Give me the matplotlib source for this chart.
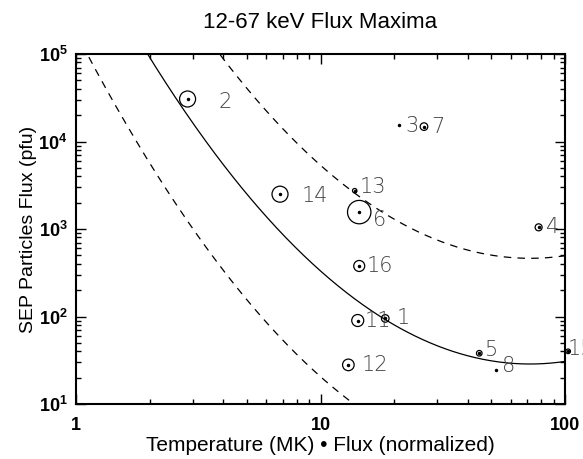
import numpy as np
import matplotlib
matplotlib.use('Agg')
import matplotlib.pyplot as plt
from matplotlib import ticker

plt.rcParams['font.family'] = ['Liberation Sans', 'DejaVu Sans']
plt.rcParams['mathtext.fontset'] = 'custom'
plt.rcParams['mathtext.rm'] = 'Liberation Sans'
plt.rcParams['mathtext.bf'] = 'Liberation Sans:bold'

# --- data ---
event_id = ['1', '2', '3', '4', '5', '6', '7', '8', '11', '12', '13', '14', '15', '16']
temp_mk = [18.4, 2.86, 20.9, 78.0, 44.6, 14.4, 26.5, 52.2, 14.2, 13.0, 13.8, 6.83, 103.0, 14.4]
flux_pfu = [95, 30600, 15500, 1045, 38, 1560, 14800, 24.5, 90, 28, 2740, 2500, 40, 378]
# normalized 12-67 keV flux -> circle radius (px), 0 = dot only
flux_norm = [3.8, 8.0, 0.0, 3.5, 2.8, 11.7, 3.8, 0.0, 6.0, 5.8, 2.2, 8.0, 2.3, 5.5]

# fit: log F = a + c (log T - t0)^2, dashed = +/- spread decades
fit_t0 = 1.857
fit_a = 1.457
fit_c = 1.448
fit_spread = 1.208

# label offsets (px) from the point
lab_dx = [8, 23, 7, 4, 3, 2, 3, 6, 1, 8, 3, 14, -3, 2]
lab_dy = [0, 3, 1, 0, -3, 8, 0, -4, 0, 0, -4, 2, -2, 0]

px = 0.72  # points per pixel at dpi 100

fig = plt.figure(figsize=(5.83, 4.59), dpi=100)
ax = fig.add_axes([76 / 583, 55 / 459, 489 / 583, 350 / 459])

# --- fit curves ---
logT = np.linspace(0, 2.05, 400)
logF = fit_a + fit_c * (logT - fit_t0) ** 2
ax.plot(10 ** logT, 10 ** logF, color='k', lw=0.9)
for s in (fit_spread, -fit_spread):
    ax.plot(10 ** logT, 10 ** (logF + s), color='k', lw=0.9, dashes=(6, 5))

# --- events ---
r = np.array(flux_norm)
m = r > 0
ax.scatter(np.array(temp_mk)[m], np.array(flux_pfu)[m], s=(2 * r[m] * px) ** 2,
           facecolors='none', edgecolors='k', linewidths=0.9, clip_on=False, zorder=3)
ax.plot(temp_mk, flux_pfu, 'k.', ms=3, clip_on=False, zorder=4)

for i, lab in enumerate(event_id):
    ax.annotate(lab, (temp_mk[i], flux_pfu[i]),
                xytext=(r[i] * px + lab_dx[i] * px, -lab_dy[i] * px),
                textcoords='offset points', ha='left', va='center',
                fontsize=15, family='DejaVu Sans', fontweight='light',
                color='#444444', annotation_clip=False)

# --- axes ---
ax.set_xscale('log')
ax.set_yscale('log')
ax.set_xlim(1, 100)
ax.set_ylim(10, 1e5)

ax.set_xticks([1, 10, 100])
ax.set_xticklabels(['1', '10', '100'])
ax.xaxis.set_minor_locator(ticker.LogLocator(base=10, subs=np.arange(2, 10)))
ax.xaxis.set_minor_formatter(ticker.NullFormatter())
ax.set_yticks([10, 100, 1000, 1e4, 1e5])
ax.set_yticklabels([r'$\mathbf{10^{%d}}$' % k for k in range(1, 6)])
ax.yaxis.set_minor_locator(ticker.LogLocator(base=10, subs=np.arange(2, 10)))
ax.yaxis.set_minor_formatter(ticker.NullFormatter())

ax.tick_params(which='both', direction='in', top=True, right=True, width=1)
ax.tick_params(which='major', length=7, labelsize=13, pad=6)
ax.tick_params(axis='x', which='major', pad=9)
ax.tick_params(which='minor', length=3.5)
for t in ax.get_xticklabels():
    t.set_fontweight('bold')
for sp in ax.spines.values():
    sp.set_linewidth(1.5)

ax.set_xlabel('Temperature (MK) \u2022 Flux (normalized)', fontsize=15, labelpad=2)
ax.set_ylabel('SEP Particles Flux (pfu)', fontsize=14, labelpad=1)
ax.set_title('12-67 keV Flux Maxima', fontsize=16, pad=19)

fig.savefig('out.png', dpi=100)
